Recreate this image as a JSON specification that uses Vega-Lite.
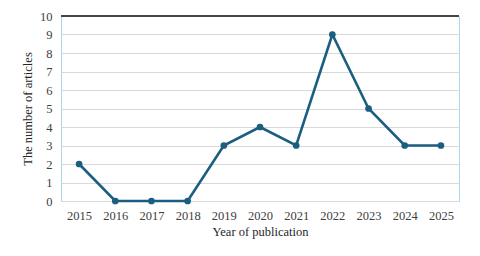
{
  "$schema": "https://vega.github.io/schema/vega-lite/v6.json",
  "width": 398,
  "height": 185,
  "autosize": {"type": "none"},
  "padding": {"left": 61, "top": 16, "right": 21, "bottom": 55},
  "background": "white",
  "config": {
    "view": {"stroke": "#a9d6ee", "strokeWidth": 1},
    "font": "Liberation Serif",
    "axis": {
      "labelFont": "Liberation Serif",
      "titleFont": "Liberation Serif",
      "labelFontSize": 12.5,
      "titleFontSize": 12.5,
      "titleFontWeight": "normal",
      "labelColor": "#404040",
      "titleColor": "#262626",
      "ticks": false,
      "gridColor": "#d9d9d9"
    }
  },
  "data": {
    "values": [
      {"year": "2015", "count": 2},
      {"year": "2016", "count": 0},
      {"year": "2017", "count": 0},
      {"year": "2018", "count": 0},
      {"year": "2019", "count": 3},
      {"year": "2020", "count": 4},
      {"year": "2021", "count": 3},
      {"year": "2022", "count": 9},
      {"year": "2023", "count": 5},
      {"year": "2024", "count": 3},
      {"year": "2025", "count": 3}
    ]
  },
  "layer": [
    {
      "mark": {"type": "line", "color": "#1b5e80", "strokeWidth": 2.6, "point": {"filled": true, "size": 45, "color": "#1b5e80"}},
      "encoding": {
        "x": {
          "field": "year",
          "type": "ordinal",
          "scale": {"type": "point", "padding": 0.5},
          "axis": {"title": "Year of publication", "labelAngle": 0, "labelPadding": 8, "titlePadding": 4, "domain": false, "grid": false}
        },
        "y": {
          "field": "count",
          "type": "quantitative",
          "scale": {"domain": [0, 10]},
          "axis": {"title": "The number of articles", "values": [0,1,2,3,4,5,6,7,8,9,10], "labelOverlap": false, "labelPadding": 9, "titlePadding": 5, "domain": false, "grid": true}
        }
      }
    },
    {
      "mark": {"type": "rule", "color": "#444444", "strokeWidth": 1},
      "encoding": {"y": {"datum": 10, "type": "quantitative", "axis": {"title": "The number of articles", "values": [0,1,2,3,4,5,6,7,8,9,10], "labelOverlap": false, "labelPadding": 9, "titlePadding": 5, "domain": false, "grid": true}}}
    }
  ]
}
